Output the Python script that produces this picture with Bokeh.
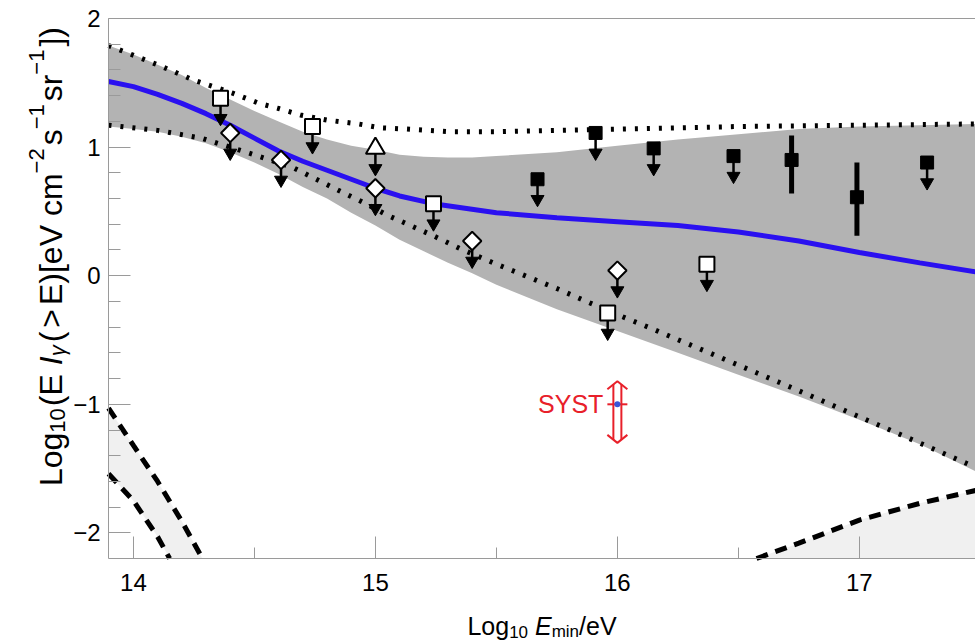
import math
from bokeh.plotting import figure
from bokeh.models import FixedTicker, Label, Range1d, LinearAxis
from bokeh.embed import file_html
from bokeh.resources import INLINE

# ---------------- data ----------------
X_MAJOR = [14, 15, 16, 17]
X_MINOR = [14.5, 15.5, 16.5, 17.5]
Y_MAJOR = [-2, -1, 0, 1, 2]
Y_MINOR = [-1.8, -1.6, -1.4, -1.2, -0.8, -0.6, -0.4, -0.2, 0.2, 0.4, 0.6, 0.8,
           1.2, 1.4, 1.6, 1.8]
Y_LABEL_OVERRIDES = {-1: "\u22121", -2: "\u22122"}

# grey uncertainty band
BAND_X = [13.897, 14.0, 14.1, 14.2, 14.3, 14.4, 14.5, 14.6, 14.7, 14.8, 14.9, 15.0,
          15.1, 15.2, 15.3, 15.4, 15.5, 15.75, 16.0, 16.25, 16.5, 16.75, 17.0, 17.25, 17.48]
BAND_UPPER = [1.79, 1.72, 1.64, 1.56, 1.46, 1.37, 1.28, 1.20, 1.12, 1.06, 1.01, 0.98,
              0.94, 0.925, 0.92, 0.92, 0.93, 0.96, 1.01, 1.06, 1.10, 1.14, 1.16, 1.17, 1.18]
BAND_LOWER = [1.16, 1.14, 1.12, 1.08, 1.03, 0.96, 0.88, 0.79, 0.69, 0.60, 0.49, 0.39,
              0.28, 0.19, 0.10, 0.02, -0.07, -0.26, -0.43, -0.60, -0.77, -0.94, -1.12, -1.31, -1.52]

# dotted envelopes
UDOT_X = [13.897, 14.1, 14.25, 14.41, 14.52, 14.6, 14.69, 14.8, 14.93, 15.02, 15.13,
          15.3, 15.5, 16.0, 16.5, 17.0, 17.48]
UDOT_Y = [1.79, 1.64, 1.52, 1.42, 1.34, 1.30, 1.25, 1.21, 1.18, 1.15, 1.14,
          1.12, 1.12, 1.14, 1.16, 1.17, 1.18]
LDOT_X = [13.897, 14.1, 14.28, 14.45, 14.66, 14.83, 14.95, 15.05, 15.24, 15.35, 15.5,
          15.75, 15.97, 16.14, 16.38, 16.67, 17.09, 17.48]
LDOT_Y = [1.17, 1.13, 1.07, 0.97, 0.84, 0.68, 0.57, 0.47, 0.31, 0.21, 0.09,
          -0.10, -0.28, -0.41, -0.60, -0.83, -1.17, -1.49]

# central (blue) curve
BLUE_X = [13.897, 14.0, 14.1, 14.2, 14.3, 14.4, 14.5, 14.6, 14.7, 14.8, 14.9, 15.0, 15.1,
          15.24, 15.5, 15.75, 16.0, 16.25, 16.5, 16.75, 17.0, 17.25, 17.48]
BLUE_Y = [1.51, 1.47, 1.41, 1.34, 1.26, 1.17, 1.07, 0.97, 0.89, 0.82, 0.75, 0.68, 0.62,
          0.56, 0.49, 0.45, 0.42, 0.39, 0.34, 0.27, 0.18, 0.10, 0.03]

# dashed curves
DASH_A_X = [13.897, 14.0, 14.1, 14.2, 14.3]
DASH_A_Y = [-1.03, -1.32, -1.60, -1.91, -2.25]
DASH_B_X = [13.897, 14.0, 14.1, 14.15, 14.2]
DASH_B_Y = [-1.54, -1.75, -2.03, -2.20, -2.38]
DASH_C_X = [16.5, 16.75, 17.0, 17.25, 17.48]
DASH_C_Y = [-2.25, -2.08, -1.90, -1.77, -1.67]

# upper limits / measurements
OPEN_SQ_X = [14.36, 14.74, 15.24, 15.96, 16.37]
OPEN_SQ_Y = [1.38, 1.16, 0.56, -0.29, 0.09]
DIAMOND_X = [14.40, 14.61, 15.00, 15.40, 16.00]
DIAMOND_Y = [1.11, 0.90, 0.68, 0.27, 0.04]
TRI_X = [15.00]
TRI_Y = [0.99]
FSQ_LIM_X = [15.67, 15.91, 16.15, 16.48, 17.28]
FSQ_LIM_Y = [0.75, 1.11, 0.99, 0.93, 0.88]
FSQ_ERR_X = [16.72, 16.99]
FSQ_ERR_Y = [0.90, 0.61]
FSQ_ERR_LO = [0.64, 0.31]
FSQ_ERR_HI = [1.09, 0.88]

# systematic-uncertainty marker
SYST_X = 16.0
SYST_Y = -1.0
SYST_UP = 0.18
SYST_DOWN = 0.30

# ---------------- geometry ----------------
W, H = 975, 642
BOX_L, BOX_T, BOX_B = 108, 18, 558          # axes box in canvas pixels (right = W)
X0, X1 = 13.897, 17.48                      # axes box in data units
Y0, Y1 = -2.199, 2.0
PXX = (W - BOX_L) / (X1 - X0)
PXY = (BOX_B - BOX_T) / (Y1 - Y0)
XL = X0 - BOX_L / PXX
YB = Y0 - (H - BOX_B) / PXY
YT = Y1 + BOX_T / PXY

FONT = "Liberation Sans"
AX_COL = "#9a9a9a"

p = figure(width=W, height=H, x_range=Range1d(XL, X1), y_range=Range1d(YB, YT),
           output_backend="svg", toolbar_location=None,
           min_border_left=0, min_border_right=0, min_border_top=0, min_border_bottom=0)
p.xgrid.visible = False
p.ygrid.visible = False
p.outline_line_color = None
p.background_fill_color = "white"
p.border_fill_color = "white"

p.xaxis.ticker = FixedTicker(ticks=X_MAJOR, minor_ticks=X_MINOR)
p.yaxis.ticker = FixedTicker(ticks=Y_MAJOR, minor_ticks=Y_MINOR)
p.yaxis.major_label_overrides = Y_LABEL_OVERRIDES
p.xaxis.fixed_location = Y0
p.xaxis.bounds = (X0, X1)
p.yaxis.fixed_location = X0
p.yaxis.bounds = (Y0, Y1)
for ax in (p.xaxis[0], p.yaxis[0]):
    ax.axis_line_color = AX_COL
    ax.major_tick_line_color = AX_COL
    ax.minor_tick_line_color = AX_COL
    ax.major_tick_in = 22
    ax.major_tick_out = 0
    ax.minor_tick_in = 11
    ax.minor_tick_out = 0
    ax.major_label_text_font = FONT
    ax.major_label_text_font_size = "24px"
    ax.major_label_text_color = "black"
p.xaxis.major_label_standoff = 15
p.yaxis.major_label_standoff = 8
p.yaxis.minor_tick_in = 12

top_axis = LinearAxis(fixed_location=Y1, bounds=(X0, X1),
                      ticker=FixedTicker(ticks=[], minor_ticks=[]),
                      axis_line_color=AX_COL, major_tick_line_color=None,
                      minor_tick_line_color=None, major_label_text_font_size="0px")
p.add_layout(top_axis, "above")


def clip_below(xs, ys, ymin):
    """Cut a polyline at the bottom of the axes box."""
    ox, oy = [], []
    for i in range(len(xs)):
        if ys[i] >= ymin:
            ox.append(xs[i])
            oy.append(ys[i])
        if i + 1 < len(xs):
            ya, yb = ys[i], ys[i + 1]
            if (ya - ymin) * (yb - ymin) < 0:
                t = (ymin - ya) / (yb - ya)
                ox.append(xs[i] + t * (xs[i + 1] - xs[i]))
                oy.append(ymin)
    return ox, oy


ax_, ay_ = clip_below(DASH_A_X, DASH_A_Y, Y0)
bx_, by_ = clip_below(DASH_B_X, DASH_B_Y, Y0)
cx_, cy_ = clip_below(DASH_C_X, DASH_C_Y, Y0)

# light filled regions between dashed curves
p.patch(ax_ + bx_[::-1], ay_ + by_[::-1], fill_color="#f0f0f0", line_color=None)
p.varea(x=cx_, y1=[Y0] * len(cx_), y2=cy_, fill_color="#f0f0f0")

# grey band
p.varea(x=BAND_X, y1=BAND_LOWER, y2=BAND_UPPER, fill_color="#b3b3b3")

# dashed curves
for xs, ys in ((ax_, ay_), (bx_, by_), (cx_, cy_)):
    p.line(xs, ys, line_color="black", line_width=5, line_dash="12 8")

# dotted envelopes
p.line(UDOT_X, UDOT_Y, line_color="black", line_width=5, line_dash="3 9")
p.line(LDOT_X, LDOT_Y, line_color="black", line_width=5, line_dash="3 9")

# blue curve
p.line(BLUE_X, BLUE_Y, line_color="#2a10f0", line_width=5)

# upper-limit arrows (stem + head), drawn under the markers
lim_x = OPEN_SQ_X + DIAMOND_X + TRI_X + FSQ_LIM_X
lim_y = OPEN_SQ_Y + DIAMOND_Y + TRI_Y + FSQ_LIM_Y
p.segment(x0=lim_x, y0=lim_y, x1=lim_x, y1=[y - 20 / PXY for y in lim_y],
          line_color="black", line_width=2.5)
p.scatter(lim_x, [y - 20 / PXY for y in lim_y], marker="inverted_triangle", size=13,
          fill_color="black", line_color="black", line_width=1)

# error bars
p.segment(x0=FSQ_ERR_X, y0=FSQ_ERR_LO, x1=FSQ_ERR_X, y1=FSQ_ERR_HI,
          line_color="black", line_width=5)

# markers
p.scatter(OPEN_SQ_X, OPEN_SQ_Y, marker="square", size=15, fill_color="white",
          line_color="black", line_width=2)
p.scatter(DIAMOND_X, DIAMOND_Y, marker="square", angle=math.pi / 4, size=13,
          fill_color="white", line_color="black", line_width=2)
p.scatter(TRI_X, TRI_Y, marker="triangle", size=19, fill_color="white",
          line_color="black", line_width=2)
p.scatter(FSQ_LIM_X + FSQ_ERR_X, FSQ_LIM_Y + FSQ_ERR_Y, marker="square", size=13,
          fill_color="black", line_color="black")

# SYST double arrow
RED = "#e8202a"
dx4 = 4 / PXX
dx10 = 10 / PXX
dy8 = 8 / PXY
ytop = SYST_Y + SYST_UP
ybot = SYST_Y - SYST_DOWN
p.multi_line(
    xs=[[SYST_X - dx4, SYST_X - dx4], [SYST_X + dx4, SYST_X + dx4],
        [SYST_X - dx10, SYST_X, SYST_X + dx10], [SYST_X - dx10, SYST_X, SYST_X + dx10],
        [SYST_X - dx10, SYST_X + dx10]],
    ys=[[ytop - 3 / PXY, ybot + 3 / PXY], [ytop - 3 / PXY, ybot + 3 / PXY],
        [ytop - dy8, ytop, ytop - dy8], [ybot + dy8, ybot, ybot + dy8],
        [SYST_Y, SYST_Y]],
    line_color=RED, line_width=2)
p.scatter([SYST_X], [SYST_Y], size=6, fill_color="#3a55d8", line_color=None)
p.add_layout(Label(x=SYST_X, y=SYST_Y, x_offset=-14, text="SYST", text_align="right",
                   text_baseline="middle", text_color=RED, text_font=FONT,
                   text_font_size="25px"))

# ---------------- composed axis labels (screen units = canvas pixels from bottom-left) ----
AW = {' ': 278, '(': 333, ')': 333, '/': 278, '>': 584, 'E': 667, 'I': 278, 'L': 556,
      'V': 667, '[': 278, ']': 278, 'c': 500, 'e': 556, 'g': 556, 'i': 222, 'm': 833,
      'n': 556, 'o': 556, 'r': 333, 's': 500, '\u2212': 584, '\u03b3': 500}


def twidth(s, size):
    return sum(AW.get(ch, 556) for ch in s) * size / 1000.0


def compose(pieces, cx, cy, rotated):
    total = sum(twidth(t, s) + g for t, s, _, _, g in pieces)
    pos = -total / 2.0
    for txt, size, style, shift, gap in pieces:
        if txt.strip():
            if rotated:
                lab = Label(x=cx - shift, y=cy + pos, angle=90, angle_units="deg")
            else:
                lab = Label(x=cx + pos, y=cy + shift)
            lab.update(x_units="screen", y_units="screen", text=txt, text_font=FONT,
                       text_font_size=f"{size}px", text_font_style=style,
                       text_color="black", text_align="left", text_baseline="alphabetic")
            p.add_layout(lab)
        pos += twidth(txt, size) + gap


XB, XS = 25, 17
XLABEL = [("Log", XB, "normal", 0, 0), ("10", XS, "normal", -6, 0), (" ", XB, "normal", 0, 0),
          ("E", XB, "italic", 0, 0), ("min", XS, "normal", -6, 0), ("/eV", XB, "normal", 0, 0)]
YB_, YS_ = 32, 22
YLABEL = [("Log", YB_, "normal", 0, 0), ("10", YS_, "normal", -7, 2),
          ("(E ", YB_, "normal", 0, 0), ("I", YB_, "italic", 0, 0),
          ("\u03b3", YS_, "italic", -7, 3), ("(", YB_, "normal", 0, 4),
          (">", YB_, "normal", 0, 4), ("E)[eV cm", YB_, "normal", 0, 0),
          ("\u22122", YS_, "normal", 14, 3), ("s", YB_, "normal", 0, 0),
          ("\u22121", YS_, "normal", 14, 3), ("sr", YB_, "normal", 0, 0),
          ("\u22121", YS_, "normal", 14, 3), ("])", YB_, "normal", 0, 0)]

compose(XLABEL, (BOX_L + W) / 2.0, H - 625, False)
compose(YLABEL, 50, H - 256, True)

open("out.html", "w").write(file_html(p, INLINE))
